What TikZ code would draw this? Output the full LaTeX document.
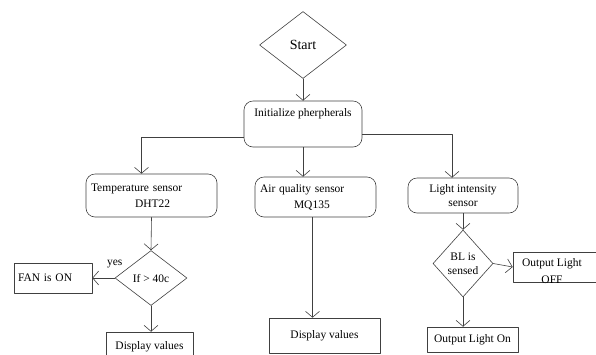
\documentclass[tikz,border=0pt]{standalone}
\usepackage{fontspec}
\setmainfont{Liberation Serif}
\usetikzlibrary{arrows.meta,shapes.geometric}

\begin{document}
\begin{tikzpicture}[line cap=round,line join=round,>={Straight Barb[length=6pt,width=14pt]},x=1pt,y=-1pt,
	every node/.style={font=\fontsize{11.5}{14}\selectfont,text=black},
	decision/.style={diamond,draw=black!75,line width=0.6pt,inner sep=0pt,aspect=1.3},
	sensor/.style={rectangle,rounded corners=9pt,draw=black!75,line width=0.6pt,align=center},
	outbox/.style={rectangle,draw=black!75,line width=0.6pt},
	conn/.style={->,draw=black!75,line width=0.6pt}]
	\useasboundingbox (0,0) rectangle (596,354);
	\clip (0,0) rectangle (596,354);
	\node[decision,minimum width=87,minimum height=67,font=\fontsize{14}{16}\selectfont] (start) at (303,45) {Start};
	\node[sensor,minimum width=118,minimum height=46,text depth=22pt] (init) at (303,124) {Initialize pherpherals};
	\node[sensor,align=left,inner sep=5pt,text width=121pt,minimum height=43] (temp) at (151.5,195.5) {Temperature sensor\\[2pt]\hspace*{44pt}DHT22};
	\node[sensor,align=left,inner sep=5pt,text width=111pt,minimum height=40] (air) at (315.5,197) {Air quality sensor\\[2pt]\hspace*{34pt}MQ135};
	\node[sensor,minimum width=110,minimum height=35] (light) at (463,195.5) {Light intensity\\sensor};
	\node[decision,minimum width=72,minimum height=55] (tempif) at (151,278) {If > 40c};
	\node[outbox,align=left,inner sep=4pt,text width=70pt,minimum height=30] (fan) at (53,278) {FAN is ON};
	\node[outbox,minimum width=87,minimum height=30] (tempdisp) at (149.5,347) {Display values};
	\node[outbox,minimum width=111,minimum height=35] (airdisp) at (324.5,335.5) {Display values};
	\node[decision,aspect=0.9,minimum width=60,minimum height=67,align=center] (lightif) at (463,263.5) {BL is\\sensed};
	\node[outbox,minimum width=84,minimum height=30] (loff) at (555,267) {};
	\node[align=center] (offtext) at (552,271) {Output Light\\[3pt]OFF};
	\node[outbox,minimum width=91,minimum height=25] (lon) at (472.5,339.5) {Output Light On};
	\draw[conn] (start) -- (init);
	\draw[conn] ([yshift=-13pt]init.west) -| ([xshift=-10pt]temp.north);
	\draw[conn] ([yshift=-10pt]init.east) -| ([xshift=-11pt]light.north);
	\draw[conn] (init.south) -- (init.south |- air.north);
	\draw[conn] (temp.south) -- (tempif.north);
	\draw[conn] (tempif.west) -- (fan.east) node[pos=0,above=6pt] {yes};
	\draw[conn] (tempif.south) -- (tempif.south |- tempdisp.north);
	\draw[conn] ([xshift=-3pt]air.south) -- ([xshift=-3pt]air.south |- airdisp.north);
	\draw[conn] (light.south) -- (lightif.north);
	\draw[conn] (lightif.east) -- (loff.west);
	\draw[conn] (lightif.south) -- (lightif.south |- lon.north);
\end{tikzpicture}
\end{document}
